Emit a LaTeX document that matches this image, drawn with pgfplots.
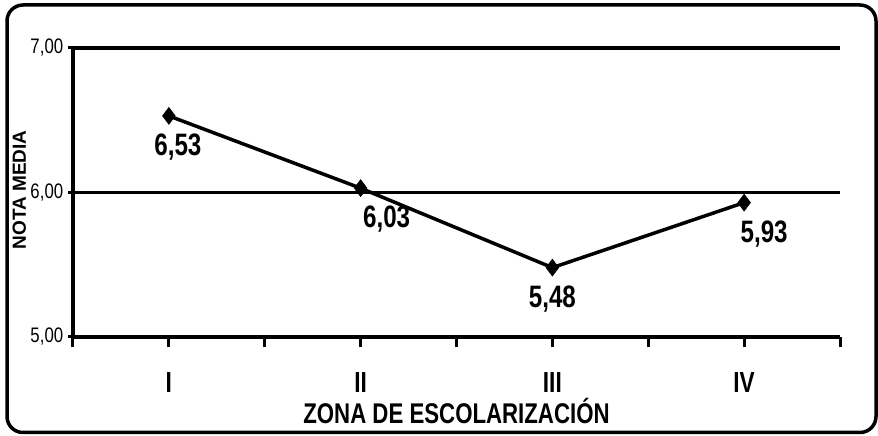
\documentclass[border=0pt]{standalone}
\usepackage{fontspec}
\setmainfont{Liberation Sans}
\newfontfamily\nf[FakeStretch=0.78]{Liberation Sans}
\newfontfamily\tf[FakeStretch=0.8]{Liberation Sans}
\usepackage{pgfplots}
\pgfplotsset{compat=1.18}
\usepackage{pgfplotstable}
\pgfplotstableread{
x y dx label
0 6.53 9 {6,53}
1 6.03 26 {6,03}
2 5.48 0 {5,48}
3 5.93 20 {5,93}
}\datatable
\begin{document}
\begin{tikzpicture}[x=1pt,y=1pt]
\useasboundingbox (0,0) rectangle (878,436);
\draw[line width=3.5pt, rounded corners=16pt] (7,3.5) rectangle (876,431);
\begin{axis}[
  at={(73pt,99pt)}, anchor=south west,
  scale only axis, width=767pt, height=289pt,
  xmin=-0.5, xmax=3.5, ymin=5, ymax=7,
  axis lines*=left,
  axis line style={line width=3.5pt, -},
  xtick={-0.5,0.5,1.5,2.5,3.5}, xticklabels={},
  extra x ticks={0,1,2,3},
  extra x tick labels={I,II,III,IV},
  extra x tick style={major tick length=0pt, tick label style={font=\nf\bfseries\fontsize{29}{29}\selectfont, anchor=center, yshift=-46pt}},
  xtick style={line width=3pt, black, /pgfplots/major tick length=10pt},
  tick align=outside,
  ytick={5,6,7},
  ytick style={line width=3pt, black, /pgfplots/major tick length=5pt},
  ymajorgrids,
  grid style={line width=3.5pt, black},
  yticklabel style={font=\tf\fontsize{21}{21}\selectfont, xshift=-2pt},
  /pgf/number format/.cd, fixed, fixed zerofill, precision=2, use comma, assume math mode=true,
  /pgfplots/.cd,
  xlabel={ZONA DE ESCOLARIZACIÓN},
  xlabel style={font=\nf\bfseries\fontsize{28.5}{28.5}\selectfont, at={(axis description cs:0.5,-0.301)}, anchor=base},
  ylabel={NOTA MEDIA},
  ylabel style={font=\bfseries\fontsize{19}{19}\selectfont, at={(axis description cs:-0.07,0.509)}, anchor=center},
  clip=false,
]
\addplot[black, line width=3.5pt, mark=diamond*, mark size=8.5pt, mark options={line width=0.5pt, fill=black},
  visualization depends on={\thisrow{dx} \as \dx},
  point meta=explicit symbolic,
  nodes near coords,
  nodes near coords style={anchor=center, xshift=\dx pt, yshift=-31pt, font=\nf\bfseries\fontsize{31}{31}\selectfont, text=black},
] table[x=x, y=y, meta=label] {\datatable};
\end{axis}
\end{tikzpicture}
\end{document}
